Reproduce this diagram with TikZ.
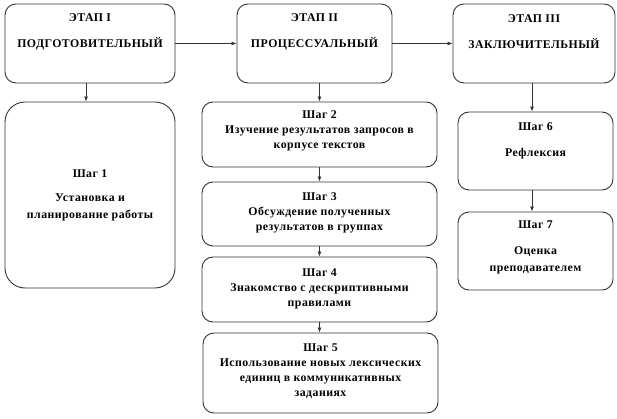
\documentclass[tikz,border=0pt]{standalone}
\usepackage{fontspec}
\setmainfont{Liberation Serif}
\usetikzlibrary{arrows.meta}
\definecolor{lc}{HTML}{333333}
\tikzset{
  x=1pt, y=-1pt,
  box/.style={draw=lc, line width=0.9pt, rounded corners=11pt, inner sep=0pt},
  lbl/.style={font=\bfseries\fontsize{11.8}{15}\selectfont\addfontfeature{LetterSpace=4}, align=center, inner sep=0pt, text=black},
  arr/.style={draw=lc, line width=0.8pt, -{Latex[length=5pt,width=4pt]}}
}
\begin{document}
\begin{tikzpicture}
\useasboundingbox[fill=white] (0,0) rectangle (617,419);
% stage boxes
\node[box, minimum width=170pt, minimum height=79pt] (b1) at (90,43.5) {};
\node[box, minimum width=155pt, minimum height=79pt] (b2) at (314.5,43.5) {};
\node[box, minimum width=162pt, minimum height=79pt] (b3) at (534,43.5) {};
\node[lbl] (t1) at (90,32) {ЭТАП I\\[11pt]ПОДГОТОВИТЕЛЬНЫЙ};
\node[lbl] (t2) at (314.5,32) {ЭТАП II\\[11pt]ПРОЦЕССУАЛЬНЫЙ};
\node[lbl] (t3) at (534,32) {ЭТАП III\\[11pt]ЗАКЛЮЧИТЕЛЬНЫЙ};
% step boxes
\node[box, rounded corners=20pt, minimum width=170pt, minimum height=186pt] (s1) at (90,195) {};
\node[box, minimum width=235pt, minimum height=65pt] (s2) at (319.5,134.5) {};
\node[box, minimum width=235pt, minimum height=64pt] (s3) at (319.5,214) {};
\node[box, minimum width=235pt, minimum height=65pt] (s4) at (319.5,289.5) {};
\node[box, minimum width=235pt, minimum height=80pt] (s5) at (320.5,373) {};
\node[box, minimum width=155pt, minimum height=78pt] (s6) at (535.5,151) {};
\node[box, minimum width=155pt, minimum height=78pt] (s7) at (535.5,251) {};
% step texts
\node[lbl] (l1) at (90,195) {Шаг 1\\[9pt]Установка и\\[2pt]планирование работы};
\node[lbl] (l2) at (319.5,131) {Шаг 2\\Изучение результатов запросов в\\корпусе текстов};
\node[lbl] (l3) at (319.5,213) {Шаг 3\\Обсуждение полученных\\результатов в группах};
\node[lbl] (l4) at (319.5,288.5) {Шаг 4\\Знакомство с дескриптивными\\правилами};
\node[lbl] (l5) at (320.5,371.5) {Шаг 5\\Использование новых лексических\\единиц в коммуникативных\\заданиях};
\node[lbl] (l6) at (535.5,140.5) {Шаг 6\\[11pt]Рефлексия};
\node[lbl] (l7) at (535.5,247) {Шаг 7\\[11pt]Оценка\\[2pt]преподавателем};
% connectors
\draw[arr] (b1.east) -- (b2.west);
\draw[arr] (b2.east) -- (b3.west);
\draw[arr] (b1.south -| 86,0) -- (s1.north -| 86,0);
\draw[arr] (b2.south -| s2.north) -- (s2.north);
\draw[arr] (s2) -- (s3);
\draw[arr] (s3) -- (s4);
\draw[arr] (s4.south -| 319.5,0) -- (s5.north -| 319.5,0);
\draw[arr] (b3.south -| 532,0) -- (s6.north -| 532,0);
\draw[arr] (s6.south -| 532,0) -- (s7.north -| 532,0);
\end{tikzpicture}
\end{document}
